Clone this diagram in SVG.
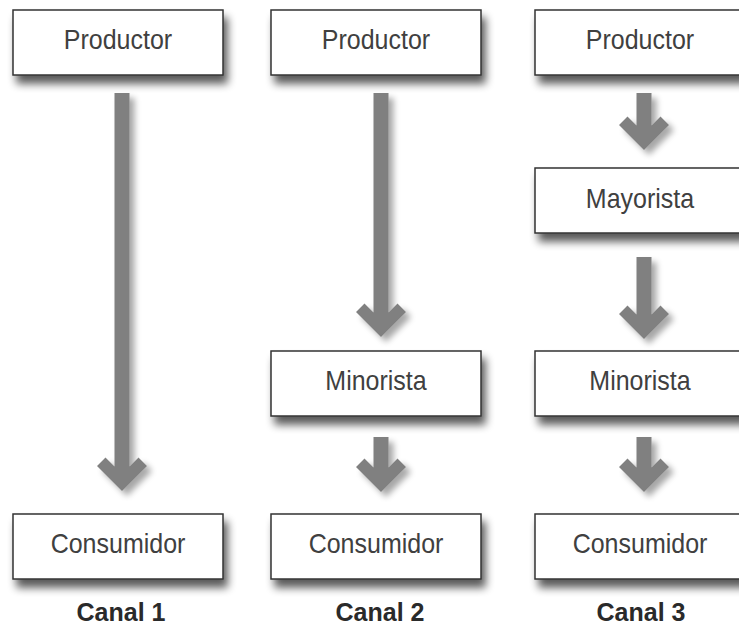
<svg xmlns="http://www.w3.org/2000/svg" width="739" height="628" viewBox="0 0 739 628">
<defs>
<filter id="boxShadow" x="-10%" y="-20%" width="130%" height="170%">
<feGaussianBlur in="SourceAlpha" stdDeviation="4.5"/>
<feOffset dx="4" dy="8" result="b"/>
<feComponentTransfer><feFuncA type="linear" slope="0.65"/></feComponentTransfer>
<feMerge><feMergeNode/><feMergeNode in="SourceGraphic"/></feMerge>
</filter>
<filter id="arrowShadow" x="-50%" y="-20%" width="200%" height="140%">
<feGaussianBlur in="SourceAlpha" stdDeviation="3"/>
<feOffset dx="5" dy="5" result="b"/>
<feComponentTransfer><feFuncA type="linear" slope="0.35"/></feComponentTransfer>
<feMerge><feMergeNode/><feMergeNode in="SourceGraphic"/></feMerge>
</filter>
</defs>
<style>
.box{fill:#ffffff;stroke:#333333;stroke-width:1.5;filter:url(#boxShadow);}
.lbl{font-family:"Liberation Sans",Arial,sans-serif;font-size:25px;fill:#404040;text-anchor:middle;}
.canal{font-family:"Liberation Sans",Arial,sans-serif;font-size:25px;font-weight:bold;fill:#2a2a2a;text-anchor:middle;}
.arrow{fill:#808080;filter:url(#arrowShadow);}
</style>
<rect width="739" height="628" fill="#ffffff"/>

<g id="connectors">
<path class="arrow" d="M114.5,93 L129.5,93 L129.5,466.5 L138.5,457.5 L147,466 L122,491 L97,466 L105.5,457.5 L114.5,466.5 Z"/>
<path class="arrow" d="M373.5,93 L388.5,93 L388.5,312.5 L397.5,303.5 L406,312 L381,337 L356,312 L364.5,303.5 L373.5,312.5 Z"/>
<path class="arrow" d="M373.5,437 L388.5,437 L388.5,467.5 L397.5,458.5 L406,467 L381,492 L356,467 L364.5,458.5 L373.5,467.5 Z"/>
<path class="arrow" d="M636.5,93 L651.5,93 L651.5,125.5 L660.5,116.5 L669,125 L644,150 L619,125 L627.5,116.5 L636.5,125.5 Z"/>
<path class="arrow" d="M636.5,257 L651.5,257 L651.5,314.5 L660.5,305.5 L669,314 L644,339 L619,314 L627.5,305.5 L636.5,314.5 Z"/>
<path class="arrow" d="M636.5,437 L651.5,437 L651.5,467.5 L660.5,458.5 L669,467 L644,492 L619,467 L627.5,458.5 L636.5,467.5 Z"/>
</g>

<g id="c1-productor"><rect class="box" x="13" y="10" width="210" height="65"/><text class="lbl" transform="translate(118,49) scale(1,1.1)">Productor</text></g>
<g id="c1-consumidor"><rect class="box" x="13" y="514" width="210" height="65"/><text class="lbl" transform="translate(118,552.5) scale(1,1.1)">Consumidor</text></g>

<g id="c2-productor"><rect class="box" x="271" y="10" width="210" height="65"/><text class="lbl" transform="translate(376,49) scale(1,1.1)">Productor</text></g>
<g id="c2-minorista"><rect class="box" x="271" y="351" width="210" height="65"/><text class="lbl" transform="translate(376,390) scale(1,1.1)">Minorista</text></g>
<g id="c2-consumidor"><rect class="box" x="271" y="514" width="210" height="65"/><text class="lbl" transform="translate(376,552.5) scale(1,1.1)">Consumidor</text></g>

<g id="c3-productor"><rect class="box" x="535" y="10" width="210" height="65"/><text class="lbl" transform="translate(640,49) scale(1,1.1)">Productor</text></g>
<g id="c3-mayorista"><rect class="box" x="535" y="168" width="210" height="65"/><text class="lbl" transform="translate(640,207.5) scale(1,1.1)">Mayorista</text></g>
<g id="c3-minorista"><rect class="box" x="535" y="351" width="210" height="65"/><text class="lbl" transform="translate(640,390) scale(1,1.1)">Minorista</text></g>
<g id="c3-consumidor"><rect class="box" x="535" y="514" width="210" height="65"/><text class="lbl" transform="translate(640,552.5) scale(1,1.1)">Consumidor</text></g>

<g id="labels">
<text class="canal" transform="translate(121,621) scale(1,1.06)">Canal 1</text>
<text class="canal" transform="translate(380,621) scale(1,1.06)">Canal 2</text>
<text class="canal" transform="translate(641,621) scale(1,1.06)">Canal 3</text>
</g>
</svg>
